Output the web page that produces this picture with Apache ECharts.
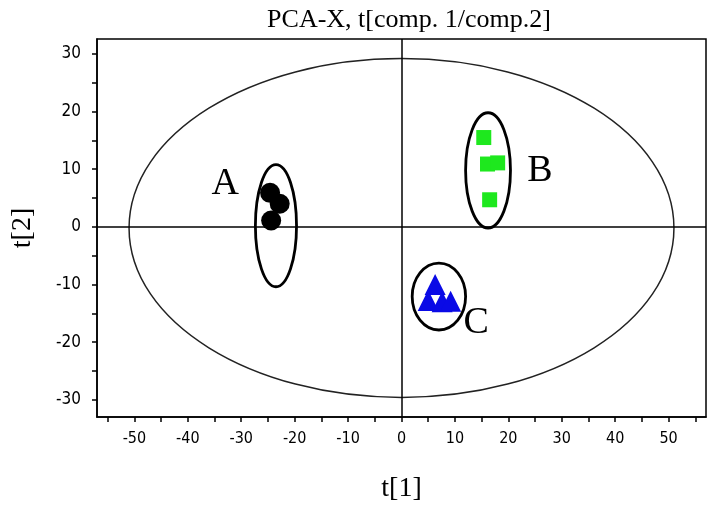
<!DOCTYPE html>
<html>
<head>
<meta charset="utf-8">
<script src="https://cdn.jsdelivr.net/npm/echarts@6/dist/echarts.min.js"></script>
<style>
  html, body { margin: 0; padding: 0; background: #fff; }
  #chart { width: 711px; height: 513px; }
</style>
</head>
<body>
<div id="chart"></div>
<script>
// score points, [t1, t2]
var groupA = [[-24.6, 5.9], [-22.8, 4.0], [-24.4, 1.1]];
var groupB = [[15.4, 15.5], [16.1, 10.9], [18.0, 11.1], [16.5, 4.7]];
var groupC = [[6.3, -10.0], [5.0, -12.8], [7.6, -13.0], [9.2, -12.9]];

// ellipses: [cx, cy, rx, ry]
var hotelling = [[0, -0.2, 51, 29.4]];
var groupEllipses = [[-23.5, 0.2, 3.85, 10.6], [16.2, 9.8, 4.2, 10.0], [7.0, -12.1, 5.0, 5.8]];

// group letters: [t1, t2, label]
var groupLabels = [[-33, 7.4, "A"], [25.9, 9.7, "B"], [14.0, -16.7, "C"]];

var xTicks = [-55, -50, -45, -40, -35, -30, -25, -20, -15, -10, -5, 0, 5, 10, 15, 20, 25, 30, 35, 40, 45, 50, 55];
var xLabels = [-50, -40, -30, -20, -10, 0, 10, 20, 30, 40, 50];
var yTicks = [-30, -25, -20, -15, -10, -5, 0, 5, 10, 15, 20, 25, 30];
var yLabels = [-30, -20, -10, 0, 10, 20, 30];

var black = "#000";
var serif = "'Liberation Serif', 'Times New Roman', serif";
var narrow = "'DejaVu Sans Condensed', 'Liberation Sans Narrow', 'Arial Narrow', sans-serif";

function ellipseSeries(data, width, color) {
  return {
    type: "custom",
    silent: true,
    z: 3,
    data: data,
    renderItem: function (params, api) {
      var c = api.coord([api.value(0), api.value(1)]);
      var s = api.size([api.value(2), api.value(3)]);
      return {
        type: "ellipse",
        shape: { cx: c[0], cy: c[1], rx: s[0], ry: s[1] },
        style: { fill: "none", stroke: color, lineWidth: width }
      };
    }
  };
}

// group letters drawn as text at their data position
var letterSeries = {
  type: "custom",
  silent: true,
  z: 5,
  data: groupLabels,
  renderItem: function (params, api) {
    var c = api.coord([api.value(0), api.value(1)]);
    return {
      type: "text",
      x: c[0],
      y: c[1],
      style: {
        text: groupLabels[params.dataIndex][2],
        fill: black,
        font: "38px " + serif,
        align: "center",
        verticalAlign: "middle"
      }
    };
  }
};

var chart = echarts.init(document.getElementById("chart"));
var option = {
  animation: false,
  backgroundColor: "#fff",
  title: {
    text: "PCA-X, t[comp. 1/comp.2]",
    left: 404,
    textAlign: "center",
    top: 2,
    textStyle: { fontFamily: serif, fontSize: 26, fontWeight: "normal", color: black }
  },
  grid: {
    left: 97,
    right: 5,
    top: 39,
    bottom: 96,
    show: true,
    borderColor: black,
    borderWidth: 1.5
  },
  xAxis: {
    type: "value",
    min: -57,
    max: 57,
    name: "t[1]",
    nameLocation: "middle",
    nameGap: 58,
    nameTextStyle: { fontFamily: serif, fontSize: 28, color: black },
    axisLine: { onZero: false, lineStyle: { color: black, width: 1.5 } },
    axisTick: { customValues: xTicks, length: 5, lineStyle: { color: black, width: 1.5 } },
    axisLabel: { customValues: xLabels, margin: 14, fontFamily: narrow, fontSize: 16, color: black },
    splitLine: { show: false }
  },
  yAxis: {
    type: "value",
    min: -33,
    max: 32.6,
    name: "t[2]",
    nameLocation: "middle",
    nameGap: 60,
    nameRotate: 90,
    nameTextStyle: { fontFamily: serif, fontSize: 28, color: black },
    axisLine: { onZero: false, lineStyle: { color: black, width: 1.5 } },
    axisTick: { customValues: yTicks, length: 5, lineStyle: { color: black, width: 1.5 } },
    axisLabel: { customValues: yLabels, margin: 16, fontFamily: narrow, fontSize: 17, color: black },
    splitLine: { show: false }
  },
  series: [
    ellipseSeries(hotelling, 1.5, "#222"),
    ellipseSeries(groupEllipses, 2.8, black),
    {
      type: "scatter",
      name: "A",
      data: groupA,
      symbol: "circle",
      symbolSize: 20,
      z: 4,
      itemStyle: { color: black, opacity: 1 },
      markLine: {
        silent: true,
        symbol: "none",
        label: { show: false },
        lineStyle: { color: black, width: 1.5, type: "solid" },
        data: [{ xAxis: 0 }, { yAxis: 0 }]
      }
    },
    {
      type: "scatter",
      name: "B",
      data: groupB,
      symbol: "rect",
      symbolSize: 15,
      z: 4,
      itemStyle: { color: "#1ee81e", opacity: 1 }
    },
    {
      type: "scatter",
      name: "C",
      data: groupC,
      symbol: "triangle",
      symbolSize: 21,
      z: 4,
      itemStyle: { color: "#0a0ae6", opacity: 1 }
    },
    letterSeries
  ]
};
chart.setOption(option);
</script>
</body>
</html>
